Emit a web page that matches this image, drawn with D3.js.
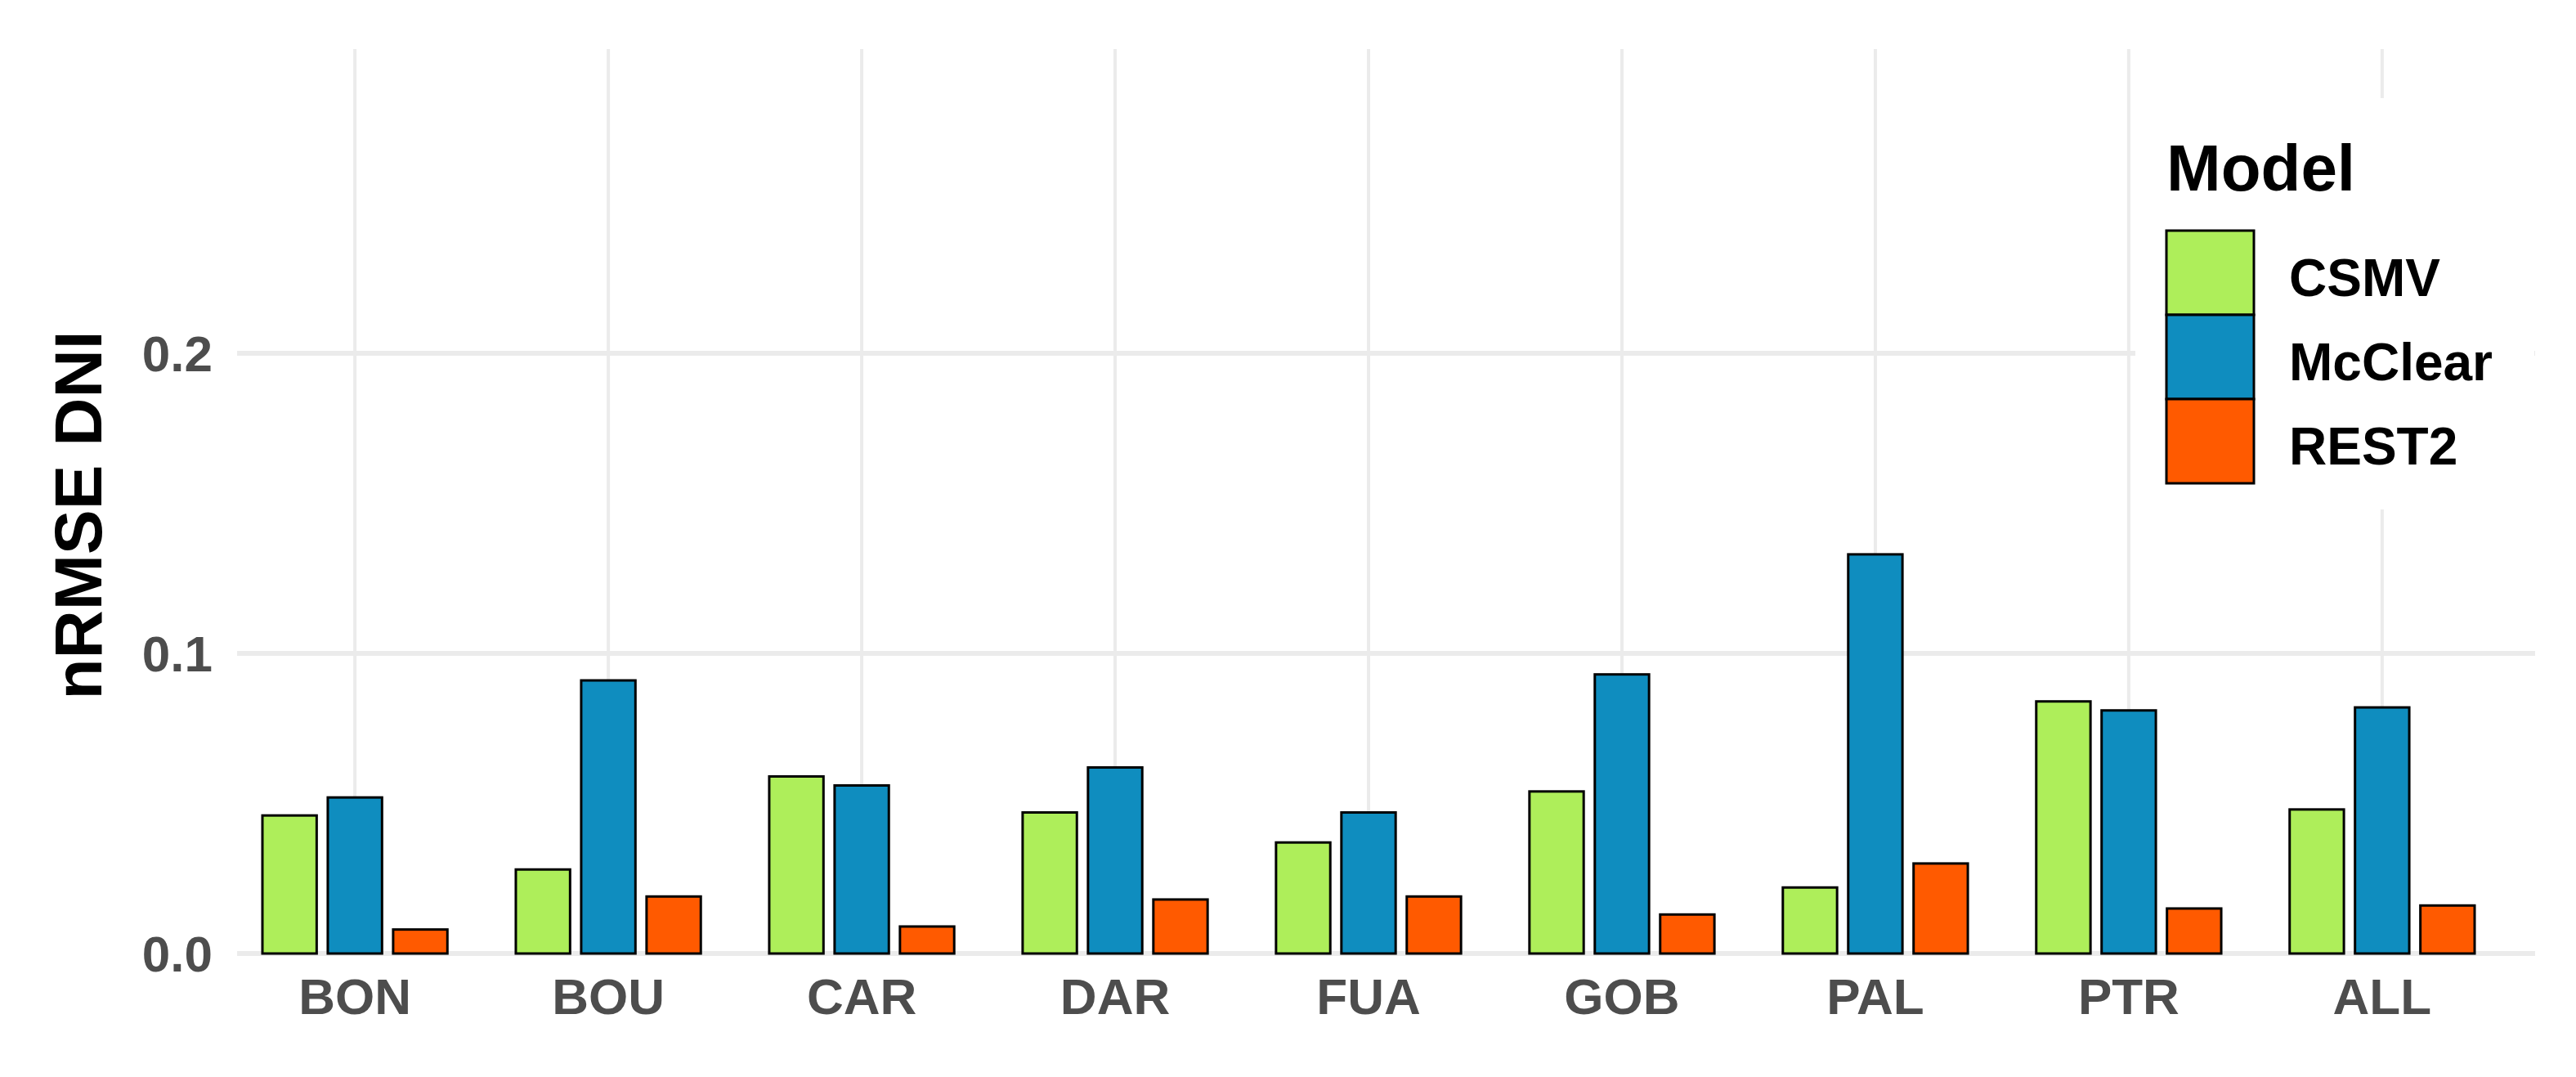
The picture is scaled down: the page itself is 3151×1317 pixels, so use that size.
<!DOCTYPE html>
<html>
<head>
<meta charset="utf-8">
<script src="https://cdn.jsdelivr.net/npm/d3@7"></script>
<style>
  body { margin: 0; background: #fff; }
  text { font-family: "Liberation Sans", Arial, sans-serif; font-weight: bold; }
</style>
</head>
<body>
<div id="chart"></div>
<script>
// data
var sites = ["BON", "BOU", "CAR", "DAR", "FUA", "GOB", "PAL", "PTR", "ALL"];
var models = ["CSMV", "McClear", "REST2"];
var csmv    = [0.046, 0.028, 0.059, 0.047, 0.037, 0.054, 0.022, 0.084, 0.048];
var mcclear = [0.052, 0.091, 0.056, 0.062, 0.047, 0.093, 0.133, 0.081, 0.082];
var rest2   = [0.008, 0.019, 0.009, 0.018, 0.019, 0.013, 0.030, 0.015, 0.016];
var yTicks = [0.0, 0.1, 0.2];
var colors = ["#aeee5a", "#0f8dbf", "#ff5a00"];

var W = 3151, H = 1317;
var margin = {top: 60, right: 50, bottom: 151, left: 290};
var width = W - margin.left - margin.right, height = H - margin.top - margin.bottom;

var svg = d3.select("#chart").append("svg")
    .attr("width", W).attr("height", H)
  .append("g")
    .attr("transform", "translate(" + margin.left + "," + margin.top + ")");

var x = d3.scaleBand().domain(sites).range([0, 2768]).paddingInner(0.27).paddingOuter(0.1);
var xm = d3.scaleBand().domain(models).range([0, x.bandwidth()]).paddingInner(0.17);
var y = d3.scaleLinear().domain([0, 0.2]).range([1106, 372]);

var data = [csmv, mcclear, rest2];

// grid
svg.selectAll(".vg").data(sites).enter().append("line")
    .attr("x1", function(d) { return x(d) + x.bandwidth() / 2; })
    .attr("x2", function(d) { return x(d) + x.bandwidth() / 2; })
    .attr("y1", 0).attr("y2", height)
    .attr("stroke", "#ebebeb").attr("stroke-width", 4);
svg.selectAll(".hg").data(yTicks).enter().append("line")
    .attr("x1", 0).attr("x2", width)
    .attr("y1", function(d) { return y(d); }).attr("y2", function(d) { return y(d); })
    .attr("stroke", "#ebebeb").attr("stroke-width", 6);

// bars
models.forEach(function(m, i) {
    svg.selectAll(".b" + i).data(data[i]).enter().append("rect")
        .attr("x", function(d, j) { return x(sites[j]) + xm(m); })
        .attr("y", function(d) { return y(d); })
        .attr("width", xm.bandwidth())
        .attr("height", function(d) { return y(0) - y(d); })
        .attr("fill", colors[i])
        .attr("stroke", "#000").attr("stroke-width", 3);
});

// axes labels
svg.selectAll(".xl").data(sites).enter().append("text")
    .attr("x", function(d) { return x(d) + x.bandwidth() / 2; })
    .attr("y", 1180)
    .attr("text-anchor", "middle")
    .attr("font-size", 62).attr("fill", "#4d4d4d")
    .text(function(d) { return d; });
svg.selectAll(".yl").data(yTicks).enter().append("text")
    .attr("x", -30).attr("y", function(d) { return y(d); })
    .attr("dy", "0.36em")
    .attr("text-anchor", "end")
    .attr("font-size", 62).attr("fill", "#4d4d4d")
    .text(function(d) { return d3.format(".1f")(d); });
svg.append("text")
    .attr("transform", "translate(-196,570) rotate(-90)")
    .attr("dy", "0.36em")
    .attr("text-anchor", "middle")
    .attr("font-size", 82).attr("fill", "#000")
    .text("nRMSE DNI");

// legend
var lg = svg.append("g").attr("transform", "translate(" + (2612 - margin.left) + "," + (120 - margin.top) + ")");
lg.append("rect").attr("width", 488).attr("height", 503).attr("fill", "#fff");
lg.append("text").attr("x", 38).attr("y", 113).attr("font-size", 80).text("Model");
models.forEach(function(m, i) {
    lg.append("rect")
        .attr("x", 38).attr("y", 162 + i * 103)
        .attr("width", 107).attr("height", 103)
        .attr("fill", colors[i]).attr("stroke", "#000").attr("stroke-width", 3);
    lg.append("text")
        .attr("x", 188).attr("y", 242 + i * 103)
        .attr("font-size", 64).text(m);
});
</script>
</body>
</html>
